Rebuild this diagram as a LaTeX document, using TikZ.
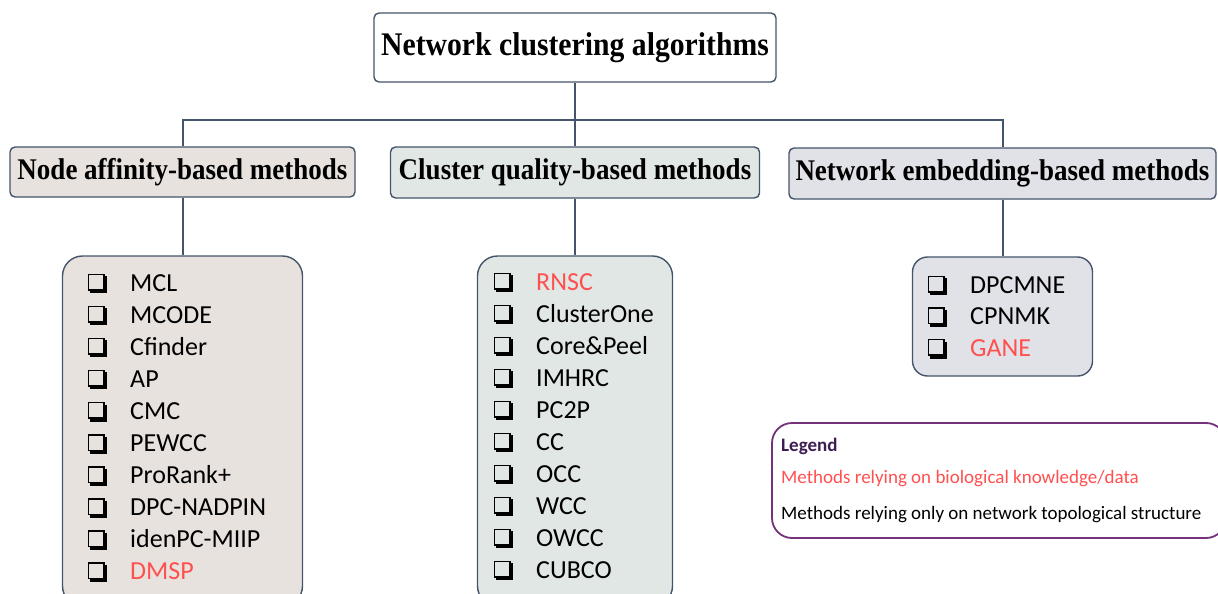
\documentclass[tikz,border=0pt]{standalone}
\usepackage{fontspec}
\setmainfont{Liberation Serif}
\newfontfamily\carlito{Carlito}
\usetikzlibrary{shadows}
\definecolor{edgec}{HTML}{44546A}
\definecolor{fillL}{HTML}{E8E2DF}
\definecolor{fillM}{HTML}{E1E7E4}
\definecolor{fillR}{HTML}{E1E1E8}
\definecolor{redt}{HTML}{FF5050}
\definecolor{legb}{HTML}{74327A}
\definecolor{legt}{HTML}{3D1D52}
\newcommand\sqz[1]{\scalebox{0.9}[1]{#1}}
\begin{document}
\begin{tikzpicture}[x=1pt,y=-1pt,
  conn/.style={draw=edgec,line width=2pt},
  hdrbox/.style={draw=edgec,line width=1.4pt,rounded corners=5pt,inner sep=0pt,
     font=\fontsize{30}{34}\selectfont\bfseries},
  listbox/.style={draw=edgec,line width=1.4pt,rounded corners=20pt,inner sep=0pt},
  item/.style={anchor=base west,inner sep=0pt,font=\carlito\fontsize{26}{30}\selectfont},
  chk/.style={draw=black,line width=1.5pt,minimum size=15.5pt,inner sep=0pt,
     general shadow={fill=black,draw=black,shadow xshift=2.6pt,shadow yshift=-2.6pt}},
  legtext/.style={anchor=base west,inner sep=0pt,font=\carlito\fontsize{19}{22}\selectfont}
]
\clip (0,0) rectangle (1218,594);
% title and headers
\node[hdrbox,fill=white,minimum width=402pt,minimum height=69pt,
  font=\fontsize{33}{38}\selectfont\bfseries] (title) at (575,47.5) {\sqz{Network clustering algorithms}};
\node[hdrbox,fill=fillL,minimum width=345pt,minimum height=50pt] (h1) at (182.5,172) {\sqz{Node affinity-based methods}};
\node[hdrbox,fill=fillM,minimum width=369pt,minimum height=51pt] (h2) at (575,172.5) {\sqz{Cluster quality-based methods}};
\node[hdrbox,fill=fillR,minimum width=427pt,minimum height=51pt] (h3) at (1002.5,173.5) {\sqz{Network embedding-based methods}};
% list boxes
\node[listbox,fill=fillL,minimum width=240pt,minimum height=350pt] (l1) at (182.5,431) {};
\node[listbox,fill=fillM,minimum width=195pt,minimum height=350pt] (l2) at (575,431) {};
\node[listbox,fill=fillR,rounded corners=15pt,minimum width=180pt,minimum height=119pt] (l3) at (1002.5,316.5) {};
% connectors
\coordinate (bar) at (575,120);
\draw[conn] (title.south) -- (title.south |- h2.north);
\draw[conn] (h1.north) -- (h1.north |- bar) -- (h3.north |- bar) -- (h3.north);
\draw[conn] (h1.south) -- (l1.north);
\draw[conn] (h2.south) -- (l2.north);
\draw[conn] (h3.south) -- (l3.north);
% left items
\foreach \t/\c [count=\i] in {MCL/black,MCODE/black,Cfinder/black,AP/black,CMC/black,PEWCC/black,ProRank+/black,DPC-NADPIN/black,idenPC-MIIP/black,DMSP/redt}{
  \pgfmathsetmacro\yy{291+32.1*(\i-1)}
  \node[chk,fill=fillL] (lc\i) at (96,\yy-9) {};
  \node[item,text=\c] (lt\i) at (130,\yy) {\t};
}
% middle items
\foreach \t/\c [count=\i] in {RNSC/redt,ClusterOne/black,Core\&Peel/black,IMHRC/black,PC2P/black,CC/black,OCC/black,WCC/black,OWCC/black,CUBCO/black}{
  \pgfmathsetmacro\yy{290+32*(\i-1)}
  \node[chk,fill=fillM] (mc\i) at (502,\yy-9) {};
  \node[item,text=\c] (mt\i) at (536,\yy) {\t};
}
% right items
\foreach \t/\c [count=\i] in {DPCMNE/black,CPNMK/black,GANE/redt}{
  \pgfmathsetmacro\yy{293+31.7*(\i-1)}
  \node[chk,fill=fillR] (rc\i) at (936,\yy-9) {};
  \node[item,text=\c] (rt\i) at (970,\yy) {\t};
}
% legend
\node[draw=legb,line width=1.8pt,rounded corners=20pt,fill=white,minimum width=454pt,minimum height=115pt,inner sep=0pt] (leg) at (999,480.5) {};
\node[legtext,text=legt,font=\carlito\bfseries\fontsize{19}{22}\selectfont] (legtitle) at (781,451.5) {Legend};
\node[legtext,text=redt] (legred) at (781,483) {Methods relying on biological knowledge/data};
\node[legtext,text=black] (legblack) at (781,519) {Methods relying only on network topological structure};
\end{tikzpicture}
\end{document}
